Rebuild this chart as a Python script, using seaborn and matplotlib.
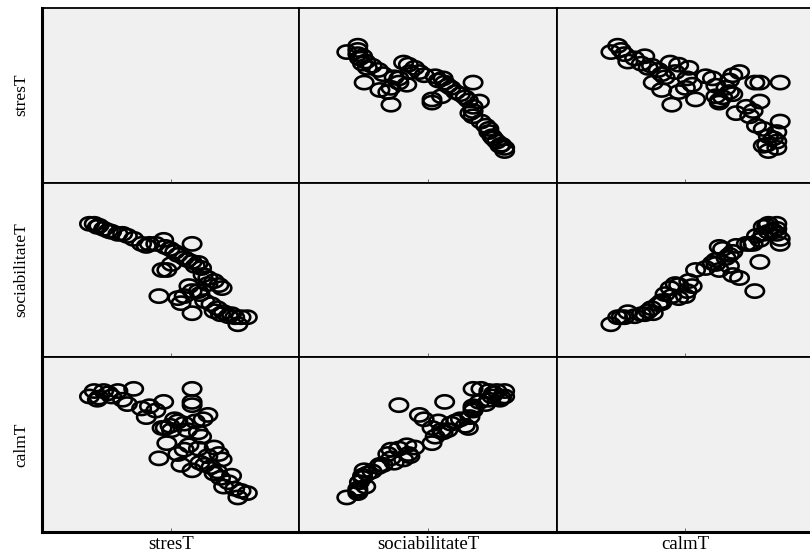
import numpy as np
import pandas as pd
import matplotlib
matplotlib.use("Agg")
import matplotlib.pyplot as plt
from matplotlib.path import Path
import seaborn as sns

# values (no tick labels in the original, relative scale)
stresT = [0, 3, 6, 9, 14, 18, 21, 28, 33, 38, 42, 47, 48, 51, 54, 56, 60, 65, 65, 69,
          71, 72, 75, 79, 82, 84, 46, 49, 44, 56, 60, 65, 58, 65, 73, 77, 79, 83, 88, 92,
          96, 100, 94, 81, 69, 5, 12, 24, 36, 62, 67, 75, 85, 90, 70, 63, 52]
sociabilitateT = [100, 100, 98, 95, 92, 90, 90, 85, 80, 80, 80, 84, 77, 75, 72, 69, 66, 80, 62, 61,
                  56, 49, 46, 43, 39, 36, 54, 54, 28, 26, 28, 33, 21, 11, 23, 20, 13, 10, 8, 7,
                  7, 7, 0, 16, 33, 97, 93, 88, 78, 64, 58, 40, 12, 10, 30, 38, 60]
calmT = [93, 98, 92, 98, 93, 98, 90, 100, 82, 84, 80, 88, 64, 66, 72, 70, 68, 100, 88, 60,
         56, 72, 76, 46, 40, 35, 64, 50, 36, 40, 44, 85, 30, 25, 30, 28, 22, 18, 14, 8,
         6, 4, 0, 24, 45, 90, 96, 86, 74, 62, 70, 38, 10, 20, 32, 48, 62]

variables = ["stresT", "sociabilitateT", "calmT"]
df = pd.DataFrame({"stresT": stresT, "sociabilitateT": sociabilitateT, "calmT": calmT})

xlims = {"stresT": (-30, 133), "sociabilitateT": (-30, 133), "calmT": (-32, 120)}
ylims = {"stresT": (-30, 136), "sociabilitateT": (-33, 141), "calmT": (-32, 129)}

theta = np.linspace(0, 2 * np.pi, 80)
ring = Path(np.column_stack([np.cos(theta), 0.72 * np.sin(theta)]), closed=True)

g = sns.PairGrid(df, vars=variables, height=2, aspect=1.5, despine=False)
g.map_offdiag(sns.scatterplot, marker=ring, s=175, facecolor="none",
              edgecolor="black", linewidth=1.9)

fig = g.figure
fig.set_size_inches(8.1, 5.59)
fig.subplots_adjust(left=0.052, right=1.005, bottom=0.048, top=0.986, wspace=0, hspace=0)

serif = ["Liberation Serif", "DejaVu Serif"]
n = len(variables)
for i in range(n):
    for j in range(n):
        ax = g.axes[i, j]
        ax.set_facecolor("#f0f0f0")
        ax.set_xlim(xlims[variables[j]])
        ax.set_ylim(ylims[variables[i]])
        ax.set_xticks([np.mean(xlims[variables[j]])])
        ax.set_yticks([])
        ax.set_xticklabels([])
        ax.tick_params(axis="x", direction="in", length=3, width=0.6, color="#555555", pad=0)
        ax.set_xlabel("")
        ax.set_ylabel("")
        for side in ax.spines.values():
            side.set_linewidth(1.3)
            side.set_color("black")
        if j == 0:
            ax.spines["left"].set_linewidth(2.2)
            ax.set_ylabel(variables[i], family=serif, fontsize=12.5, labelpad=9)
        if i == n - 1:
            ax.spines["bottom"].set_linewidth(2.2)
            ax.set_xlabel(variables[j], family=serif, fontsize=13.5, labelpad=3)

fig.savefig("out.png", dpi=100)
